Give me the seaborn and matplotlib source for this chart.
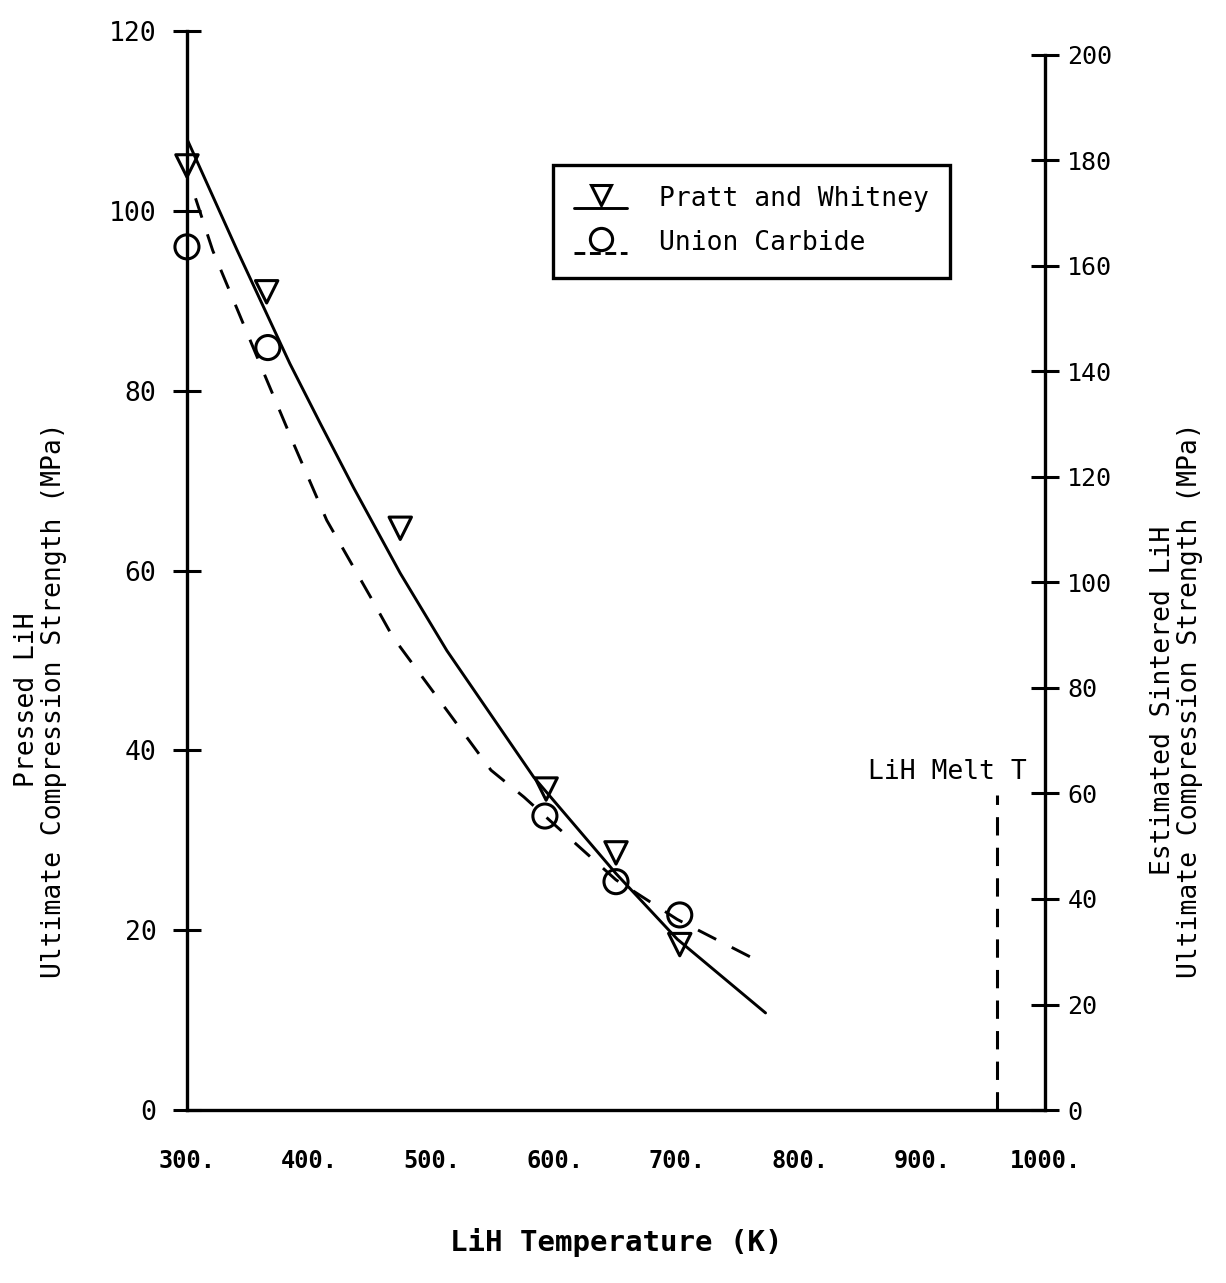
import matplotlib
matplotlib.use("Agg")
import matplotlib.pyplot as plt
from matplotlib.lines import Line2D
from matplotlib.legend_handler import HandlerBase
import seaborn as sns
import pandas as pd

# ---- data ----
pw_temp = [300, 365, 474, 593, 650, 702]
pw_strength = [105, 91, 64.7, 35.7, 28.6, 18.4]

uc_temp = [300, 366, 592, 650, 702]
uc_strength = [96, 84.8, 32.7, 25.4, 21.7]

pw_fit_temp = [300, 341, 384, 409, 436, 474, 512, 583, 650, 700, 772]
pw_fit_strength = [108, 95.6, 83.0, 76.3, 69.2, 59.7, 51.1, 37.0, 26.3, 19.0, 10.8]

uc_fit_temp = [307, 321, 362, 387, 414, 450, 468, 548, 575, 592, 650, 700, 770]
uc_fit_strength = [101.4, 95.6, 82.2, 74.1, 65.6, 57.0, 52.6, 37.8, 34.8, 32.7, 25.6, 21.2, 16.3]

melt_temp = 961
melt_line_top = 35

x_ticks = [300, 400, 500, 600, 700, 800, 900, 1000]
x_tick_labels = ["300.", "400.", "500.", "600.", "700.", "800.", "900.", "1000."]
left_ticks = [0, 20, 40, 60, 80, 100, 120]
right_ticks = [0, 20, 40, 60, 80, 100, 120, 140, 160, 180, 200]

sns.set_theme(style="white")
plt.rcParams['font.family'] = ['DejaVu Sans Mono', 'DejaVu Sans']
plt.rcParams['text.color'] = 'black'
plt.rcParams['axes.labelcolor'] = 'black'
plt.rcParams['xtick.color'] = 'black'
plt.rcParams['ytick.color'] = 'black'


class MarkerAboveHandler(HandlerBase):
    def create_artists(self, legend, orig_handle, xdescent, ydescent, width,
                       height, fontsize, trans):
        x0 = -xdescent
        y0 = -ydescent
        line = Line2D([x0, x0 + width], [y0 - 0.12 * height] * 2,
                      color=orig_handle.get_color(),
                      lw=orig_handle.get_linewidth(),
                      linestyle=orig_handle.get_linestyle())
        mark = Line2D([x0 + width / 2], [y0 + 0.62 * height], linestyle="None",
                      marker=orig_handle.get_marker(),
                      markersize=orig_handle.get_markersize(),
                      markerfacecolor="none",
                      markeredgecolor=orig_handle.get_markeredgecolor(),
                      markeredgewidth=orig_handle.get_markeredgewidth())
        line.set_transform(trans)
        mark.set_transform(trans)
        return [line, mark]


fig = plt.figure(figsize=(12.26, 12.83), dpi=100)
ax = fig.add_axes([0.1525, 0.1348, 0.6999, 0.841])

pw_fit = pd.DataFrame({"T": pw_fit_temp, "S": pw_fit_strength})
uc_fit = pd.DataFrame({"T": uc_fit_temp, "S": uc_fit_strength})
pw = pd.DataFrame({"T": pw_temp, "S": pw_strength})
uc = pd.DataFrame({"T": uc_temp, "S": uc_strength})

sns.lineplot(data=pw_fit, x="T", y="S", ax=ax, color="black", lw=2.1, sort=False)
sns.lineplot(data=uc_fit, x="T", y="S", ax=ax, color="black", lw=2.1, sort=False,
             linestyle=(0, (7, 6)))
sns.scatterplot(data=pw, x="T", y="S", ax=ax, marker="v", s=260,
                facecolor="none", edgecolor="black", linewidth=2.2, zorder=5,
                clip_on=False)
sns.scatterplot(data=uc, x="T", y="S", ax=ax, marker="o", s=300,
                facecolor="none", edgecolor="black", linewidth=2.2, zorder=5,
                clip_on=False)

# melt temperature line
ax.plot([melt_temp, melt_temp], [0, melt_line_top], color="black", lw=2.2,
        linestyle=(0, (6, 4)))
ax.text(985, 36.1, "LiH Melt T", ha="right", va="bottom", fontsize=19)

ax.set_xlim(300, 1000)
ax.set_ylim(0, 120)
ax.set_xticks(x_ticks)
ax.set_xticklabels(x_tick_labels, fontweight="bold")
ax.set_yticks(left_ticks)
ax.set_yticklabels([str(v) for v in left_ticks])
ax.tick_params(axis="x", labelsize=17, pad=18)
ax.tick_params(axis="y", labelsize=19, pad=12)
ax.set_xlabel("LiH Temperature (K)", fontsize=21, fontweight="bold", labelpad=40)
ax.set_ylabel("Pressed LiH\nUltimate Compression Strength (MPa)", fontsize=19,
              linespacing=1.05)
ax.yaxis.set_label_coords(-0.1395, 0.38)

for s in ["top", "right"]:
    ax.spines[s].set_visible(False)
for s in ["left", "bottom"]:
    ax.spines[s].set_color("black")
    ax.spines[s].set_linewidth(2.4)
ax.tick_params(axis="both", direction="inout", length=20, width=2.2, colors="black")
ax.grid(False)

ax2 = ax.twinx()
ax2.set_ylim(0, 204.5)
ax2.set_yticks(right_ticks)
ax2.set_yticklabels([str(v) for v in right_ticks])
for s in ["top", "left", "bottom"]:
    ax2.spines[s].set_visible(False)
ax2.spines["right"].set_color("black")
ax2.spines["right"].set_linewidth(2.4)
ax2.spines["right"].set_bounds(0, 200)
ax2.tick_params(axis="y", direction="inout", length=20, width=2.2, colors="black",
                pad=6, labelsize=18)
ax2.set_ylabel("Estimated Sintered LiH\nUltimate Compression Strength (MPa)",
               fontsize=19, linespacing=1.05)
ax2.yaxis.set_label_coords(1.122, 0.38)
ax2.grid(False)

handles = [
    Line2D([], [], color="black", lw=2.1, marker="v", markersize=15,
           markerfacecolor="none", markeredgecolor="black", markeredgewidth=2.2),
    Line2D([], [], color="black", lw=2.1, linestyle=(0, (3, 2.5)), marker="o",
           markersize=16, markerfacecolor="none", markeredgecolor="black",
           markeredgewidth=2.2),
]
leg = ax.legend(handles, ["Pratt and Whitney", "Union Carbide"],
                loc="upper left", bbox_to_anchor=(0.4266, 0.876),
                borderaxespad=0, fontsize=19, frameon=True, fancybox=False,
                framealpha=1, handlelength=2.0, borderpad=0.8,
                labelspacing=0.7, handletextpad=1.2,
                handler_map={Line2D: MarkerAboveHandler()})
leg.get_frame().set_edgecolor("black")
leg.get_frame().set_linewidth(2.4)

fig.savefig("out.png", dpi=100, facecolor="white")
